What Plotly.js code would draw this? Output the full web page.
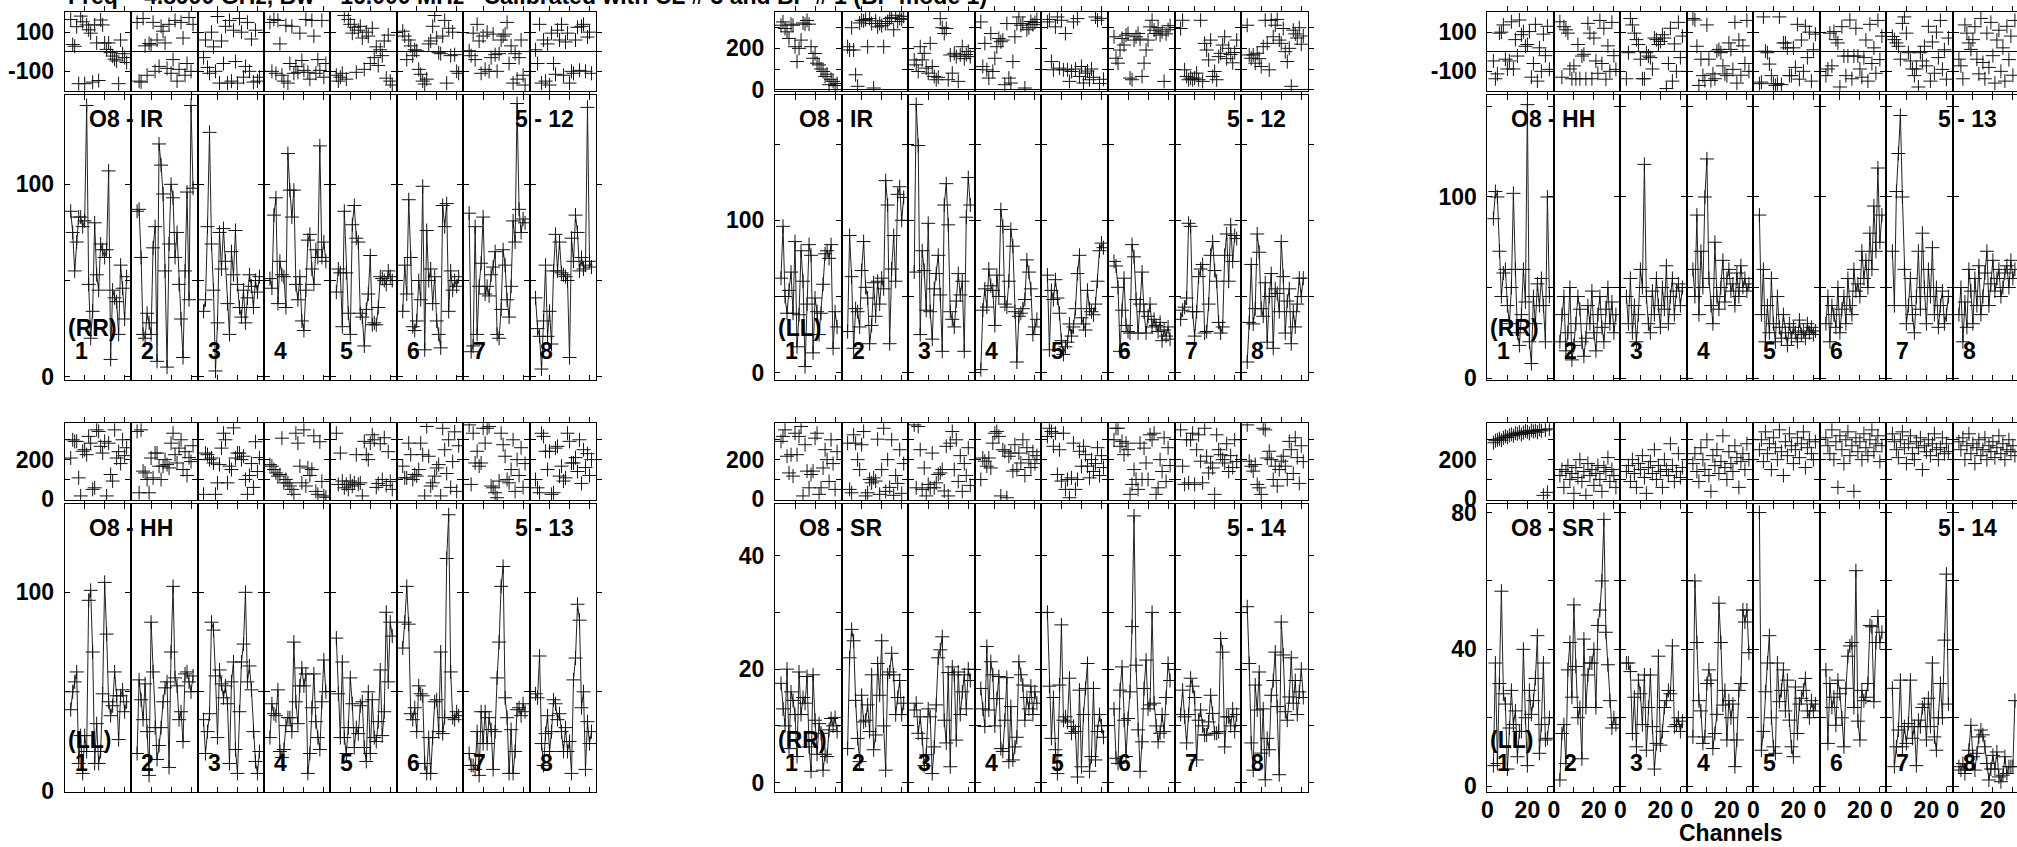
<!DOCTYPE html>
<html><head><meta charset="utf-8">
<script src="https://cdn.plot.ly/plotly-3.0.1.min.js"></script>
<style>html,body{margin:0;padding:0;background:#fff;overflow:hidden}</style>
</head><body><div id="chart" style="width:2017px;height:847px"></div>
<script>
// ---------------- DATA ----------------
const channels = [3,4,5,6,7,8,9,10,11,12,13,14,15,16,17,18,19,20,21,22,23,24,25,26,27,28,29,30,31];

const panelSource   = ['O8 - IR','O8 - IR','O8 - HH','O8 - HH','O8 - SR','O8 - SR'];
const panelBaseline = ['5 - 12','5 - 12','5 - 13','5 - 13','5 - 14','5 - 14'];
const panelStokes   = ['(RR)','(LL)','(RR)','(LL)','(RR)','(LL)'];
const ifLabels = ['1','2','3','4','5','6','7','8'];
const titleText = 'Freq = 4.8990 GHz, Bw = 16.000 MHz\u00a0\u00a0\u00a0Calibrated with CL # 3 and BP # 1 (BP mode 1)';
const xAxisTitle = 'Channels';
const xTickVals = [0,10,20,30];
const xTickText = ['0','','20',''];

const phaseTickValsA = [-200,-100,0,100,200];
const phaseTickTextA = ['','-100','','100',''];
const phaseTickValsB = [0,100,200,300];
const phaseTickTextB = ['0','','200',''];
const ampTickVals = [[0,50,100],[0,50,100,150],[0,50,100,150],[0,50,100],[0,10,20,30,40],[0,20,40,60,80]];
const ampTickText = [['0','','100'],['0','','100',''],['0','','100',''],['0','','100'],['0','','20','','40'],['0','','40','','80']];

// Panel A: O8 - IR (RR)
const ampA = [
[86,75,55,70,83,83,78,81,141,48,20,34,80,53,45,69,66,62,66,107,9,45,41,39,22,58,46,30,52],
[86,87,62,22,20,33,28,22,67,78,8,121,110,95,55,5,69,100,93,62,75,48,30,10,55,96,40,141,98],
[34,40,78,127,69,45,3,28,75,56,77,60,38,22,65,53,76,48,36,31,45,28,41,53,47,36,50,44,52],
[51,46,84,93,38,60,53,52,36,116,97,83,97,48,40,52,29,24,45,71,74,56,48,66,62,120,62,70,60],
[44,56,54,26,86,54,33,22,79,89,72,70,33,31,16,35,43,63,27,28,27,36,52,51,50,48,55,52,50],
[34,58,43,92,62,26,24,29,50,40,99,14,76,50,56,38,52,29,22,15,89,78,90,34,55,45,50,47,52],
[85,13,16,78,22,47,59,83,43,47,42,53,57,65,22,20,35,66,58,40,31,47,81,70,142,87,75,82,80],
[41,25,21,4,29,58,21,34,17,55,74,55,70,54,53,52,50,10,72,60,84,75,55,62,56,58,140,60,57]];
const phsA = [
[165,37,28,128,-163,182,153,-163,137,112,95,-155,137,45,-147,162,137,45,12,45,-5,-22,-38,-47,-163,60,-10,-30,-55],
[150,-150,-155,170,30,-120,42,35,150,-100,60,-75,130,105,45,-85,140,-110,-40,160,-150,-90,150,70,-120,-60,175,-100,140],
[-30,60,-80,-110,100,25,-100,180,-160,55,-60,130,-160,160,-150,110,-50,-160,170,100,-130,-75,150,-100,65,-155,110,-150,-130],
[150,-100,165,-110,160,40,-120,-150,135,-160,-60,130,-110,-75,-105,95,-45,-95,165,-105,-140,160,80,-110,-40,-95,160,-130,-60],
[-120,-150,-130,-110,185,-140,165,140,95,125,-105,110,130,70,-90,100,80,-60,120,-30,25,-70,10,-20,55,-135,85,-150,-170],
[105,80,-40,60,30,-20,10,5,-90,-115,-150,-165,-140,40,55,130,185,70,-5,-10,80,160,-160,120,-20,100,-15,-100,-110],
[5,-20,95,-40,140,55,-110,80,-90,100,-100,-30,90,-15,-100,-10,60,80,90,150,-60,30,-160,-10,-140,-30,60,-120,-170],
[10,-60,140,-160,60,-150,40,-170,95,-60,-115,110,60,140,-120,50,95,-160,-100,-110,60,125,-95,130,140,-100,75,100,-110]];

// Panel B: O8 - IR (LL)
const ampB = [
[62,96,50,39,54,66,39,86,17,38,80,60,4,45,84,77,13,49,40,25,39,58,78,80,75,84,16,40,30],
[27,90,63,16,42,40,30,67,86,56,49,19,31,59,37,60,45,62,55,126,110,19,68,90,60,117,122,100,115],
[66,176,149,25,80,67,41,98,40,22,55,65,77,51,14,110,124,97,40,35,30,47,65,51,60,14,102,128,110],
[2,41,55,43,68,57,54,31,64,50,107,96,45,43,60,94,83,40,7,37,39,42,48,74,66,55,25,30,35],
[64,15,54,48,61,49,39,21,12,17,20,32,24,30,42,65,77,36,32,28,54,42,40,38,45,60,80,85,82],
[73,70,56,14,41,62,31,27,26,84,76,48,26,45,66,40,26,37,45,30,35,31,27,33,21,28,24,30,22],
[35,41,43,49,98,96,40,24,40,63,68,71,26,27,45,77,86,67,60,33,26,30,77,91,60,97,73,90,88],
[7,33,71,32,42,91,79,42,37,59,20,50,65,16,55,52,40,86,63,26,47,55,19,40,30,45,62,50,62]];
const phsB = [
[312,328,296,280,248,317,312,208,136,200,240,323,317,335,317,208,152,175,128,120,100,88,64,75,24,50,40,20,30],
[208,192,300,192,72,16,323,336,333,340,208,344,320,8,333,304,320,310,208,320,330,344,350,290,360,330,345,340,355],
[144,120,88,208,144,176,104,80,224,112,64,48,60,344,300,272,296,48,168,80,176,160,40,168,208,150,170,185,160],
[328,112,224,96,56,272,88,152,208,248,232,240,24,320,56,32,136,256,320,352,312,320,8,290,300,330,315,325,340],
[328,340,136,96,304,352,104,336,96,272,96,40,88,328,100,344,64,112,32,80,90,48,100,60,352,336,30,345,50],
[256,152,128,192,248,216,264,272,56,48,240,256,272,245,64,128,192,240,304,336,288,272,300,264,280,40,270,290,310],
[296,336,96,64,48,56,48,56,80,48,336,40,224,192,144,240,64,88,48,160,176,216,256,150,200,170,130,180,240],
[312,168,152,168,128,176,150,112,208,336,224,96,336,256,312,340,240,224,296,184,136,200,16,288,270,250,300,220,260]];

// Panel C: O8 - HH (RR)
const ampC = [
[88,103,100,70,45,58,60,40,30,50,102,60,25,18,35,60,42,151,20,8,45,30,52,40,55,40,20,100,45],
[20,35,45,15,25,50,10,18,30,45,38,20,12,22,40,30,48,25,15,35,45,28,20,38,50,30,42,25,35],
[45,30,55,25,40,20,35,60,50,118,45,30,25,48,35,55,40,28,50,38,62,30,45,55,35,48,52,40,50],
[60,45,90,35,70,50,100,121,55,40,30,75,45,38,50,65,42,55,60,48,52,40,58,45,62,50,55,48,52],
[90,35,60,20,40,25,55,30,20,45,28,22,35,25,18,30,22,28,25,20,32,24,26,22,30,25,28,24,26],
[30,45,20,40,35,28,50,25,38,45,30,55,40,35,60,48,52,45,70,55,65,50,80,60,95,70,116,75,90],
[70,40,103,124,145,100,60,30,40,55,35,25,45,70,38,80,50,30,60,45,72,35,50,28,40,48,30,35,45],
[35,50,20,42,28,60,48,30,55,40,62,35,45,58,70,40,52,65,48,55,60,45,50,58,62,50,65,55,60]];
const phsC = [
[-47,-138,-113,95,100,137,-38,-88,-47,153,-88,62,-22,162,87,103,28,37,103,-130,-60,140,-150,20,-100,90,-20,130,-90],
[153,-130,128,112,95,-88,-138,-72,-138,37,-138,-22,-13,-138,145,95,-138,70,-47,-110,160,-60,120,-140,30,-100,150,-20,-90],
[-138,-5,170,137,95,62,37,-38,-138,-138,-5,-22,-30,-88,70,62,37,53,87,70,-188,-60,120,-150,40,-100,150,-30,80],
[170,162,28,-172,-38,-122,-147,137,-38,-147,-113,-138,3,12,-5,-72,-113,-122,45,12,-90,150,-160,60,-120,30,-60,160,-100],
[-163,-155,178,3,-5,-63,-122,-163,-172,-163,178,-168,45,45,20,-122,-122,20,-80,140,-140,60,-100,130,-30,100,-150,10,90],
[-122,-88,95,-72,103,62,45,-180,128,-22,-122,-22,162,-138,-22,120,-22,-88,-130,-30,60,-150,140,-60,20,-110,160,-40,80],
[78,62,45,28,-38,145,178,95,-5,-47,-88,-122,-88,-180,-5,-47,28,-72,130,-150,50,-110,100,-30,160,-90,10,-140,70],
[-38,-72,-138,137,95,45,12,62,128,-38,-113,170,-55,-138,95,-80,150,-20,-160,60,110,-100,20,-150,130,-40,80,-120,160]];

// Panel D: O8 - HH (LL)
const ampD = [
[41,50,55,60,14,28,9,28,20,96,101,70,14,34,14,20,49,105,79,45,38,43,60,48,26,48,51,40,45],
[19,56,46,36,54,30,8,85,60,32,16,23,32,45,52,55,12,70,103,57,53,36,40,25,59,60,55,50,58],
[36,19,30,39,85,81,58,27,61,54,47,53,44,14,55,65,21,9,40,65,74,100,55,63,51,30,15,9,20],
[27,44,39,38,51,20,17,21,33,37,37,30,75,45,34,53,62,53,59,9,19,42,59,35,27,21,45,66,50],
[77,49,27,65,27,19,32,57,44,22,32,29,43,45,22,15,50,19,46,27,25,35,61,28,40,90,55,85,78],
[72,85,103,84,39,36,42,30,53,49,48,14,9,27,9,27,45,46,30,70,29,37,117,139,60,37,36,40,38],
[19,13,13,11,30,8,40,24,40,24,37,31,11,30,57,75,103,113,47,37,9,31,9,20,41,42,38,44,40],
[49,47,68,24,13,29,38,20,30,46,44,36,39,30,20,32,20,25,9,56,67,94,86,42,50,11,35,24,30]];
const phsD = [
[208,300,292,292,108,17,242,250,225,317,283,50,58,350,342,267,233,292,17,283,125,92,350,208,240,180,300,220,260],
[342,33,350,142,133,100,33,208,108,233,233,167,100,167,200,175,158,283,333,225,183,258,300,150,240,120,210,190,270],
[25,233,225,200,208,183,25,83,175,258,333,300,83,167,150,360,208,233,233,200,217,100,25,120,180,60,290,140,210],
[175,167,150,133,117,125,308,83,100,83,67,50,25,333,283,167,83,350,67,158,120,150,320,40,25,290,90,17,10],
[333,75,233,92,58,75,50,92,67,83,225,75,83,17,292,225,200,283,325,300,60,80,280,100,310,70,240,90,50],
[167,108,108,283,225,100,125,117,150,283,225,17,367,217,67,83,117,158,175,17,358,250,130,300,60,190,340,40,270],
[375,75,333,183,242,167,183,358,283,358,367,67,58,33,8,92,333,275,217,100,83,150,300,40,200,120,260,60,180],
[100,58,33,333,317,242,150,242,25,33,258,267,117,167,92,108,333,292,183,183,210,140,300,80,250,160,230,120,200]];

// Panel E: O8 - SR (RR)
const ampE = [
[17.5,13,10,20,6,16,14.5,12,4.6,19.5,12,15,14,18.7,6.3,2,19,11,5,10.4,8.7,2.2,5,4.6,9.3,11.3,10,11.5,9],
[6,22,27,25,14.5,7.8,3.7,15.4,10.7,11,13.7,9,19,5.8,8.4,21,15.4,25,10,2.2,19,19.5,22.8,19,12,15,18,12,14],
[12.8,14,8.7,11.6,7.8,3,4.9,13,11.6,1.6,6.3,13.7,22,23.4,25.7,11,7,19.4,2.8,20.4,19,7.5,19.5,12,16,19,13,20,18],
[16.6,13,9.9,24,12.8,21.3,19,10,14.8,18.7,6,5.5,11,18.5,3.7,13.4,4,6.3,8,21.3,19,17.2,11,15,13,17,12,16,14],
[30,17,7.8,15,5.8,1.6,17.2,27.8,11,11.6,10.7,18.4,8.7,9.9,9,1,16.3,2.8,12,16.6,21,2,4.6,16.6,4,9,12,10,8],
[13,4.3,3.4,16.3,20.4,11,4.6,11.3,16,27.5,47,20.7,9.3,2,7.2,16.6,21.6,13,13.7,30,14,10,7.2,8.7,12,9,15,21,18],
[12,16.3,11.6,7,12,18.4,17,15,4,11,12.8,10,8.4,8.4,10.7,15.4,12.2,8.7,8.7,9,25.4,23,6.3,11.6,11.6,10,13,9,12],
[31,21,7,2.2,17.2,12.8,19.5,5.2,13,0.5,7.8,5.8,15.4,18,23,13.4,1.4,28.3,22.5,12.5,11,15.1,22,14,18,12,16,20,15]];
const phsE = [
[292,317,350,217,133,225,117,333,225,317,367,17,275,142,58,125,142,308,333,25,58,158,250,200,90,300,180,50,240],
[283,50,33,325,283,200,150,275,342,17,33,100,83,108,92,303,25,150,358,40,200,60,300,20,120,80,250,30,180],
[375,58,367,250,50,158,17,75,58,233,58,83,125,133,150,42,267,17,283,342,150,300,90,220,40,180,120,260,70],
[100,208,192,167,208,158,283,333,342,317,17,250,242,8,217,233,142,275,150,233,183,300,120,260,200,160,240,180,220],
[317,358,342,267,333,125,250,92,333,50,100,8,108,283,50,100,242,167,267,225,167,108,200,140,180,260,120,220,160],
[300,358,358,267,292,225,283,250,25,75,150,100,50,283,100,258,183,100,325,300,333,25,58,200,140,310,90,260,170],
[350,167,75,300,83,300,333,75,250,325,192,83,358,217,133,183,158,25,325,250,225,200,183,280,140,220,160,300,190],
[375,192,167,142,175,75,58,25,358,350,208,242,200,100,167,67,150,192,217,167,100,292,250,130,310,210,80,270,190]];

// Panel F: O8 - SR (LL)
const ampF = [
[6,36,6.6,30,57,27,24,5,17,28,18,22,8.6,16,16,40,20,6,28,21,25,31.5,44,9.6,18,36,13.5,14,20],
[1.8,15.4,18,6.6,34,42,26,53,35,20,23,8,43,23,32.5,36,36,40,23,47,51.5,60,78,45,35.5,25,17,20,18],
[36,36,33.5,15.4,26,11.5,31,27,18,32.5,10.5,23,32.5,17.4,5,12.5,38,12,16,23,25,28,27,41,17.4,18,20,16,19],
[14.4,60,42,25,22,12.5,14.4,30,34,31,11,15.4,21,53.5,42,23.7,28,13.5,25,20,24,5.7,13.5,28,30,51.5,48,51.5,39],
[80,10.5,16,27.6,36,44,20,11.5,9.6,36,24.7,28,34,22,31,19.3,11.5,8.6,29,15.4,24,25.7,28,31.5,22,20,25,22,24],
[34,12.5,30,23,26,17.8,31,27,20,11.5,28.6,38,41,42,23,63,19,13.5,28,25,26,30,47,46.6,24.7,42,49.6,42,45],
[28.6,5.7,11.5,16.4,31,11.5,17.4,12.5,18.3,31,14,17.4,6,19.3,17.4,23,24,13.5,25.7,17.4,36,14.4,10.5,20,30,20,42.7,62,24],
[5.7,4.7,6.6,3.7,6.6,10.5,17.8,8.6,4.7,9.6,14.4,16.4,15,11.5,6.6,1.8,5,9,5,10,2.7,1.3,3.2,8.6,3.7,5.7,5.7,5.7,25]];
const phsF = [
[285,295,300,305,298,310,318,312,322,328,320,333,330,338,326,336,344,340,332,348,342,346,338,352,345,20,350,35,355],
[120,150,60,140,170,100,130,30,160,110,200,90,140,20,180,120,150,70,130,170,100,40,160,140,210,90,150,120,60],
[140,170,90,200,130,60,180,150,220,110,30,160,190,130,250,100,170,140,60,200,150,120,280,170,90,140,230,110,160],
[180,230,140,90,260,200,150,300,120,40,220,170,250,130,190,320,160,100,240,180,140,270,210,60,190,230,150,280,200],
[250,300,190,340,230,280,150,310,260,200,350,240,120,290,220,330,270,180,250,310,210,280,340,160,260,300,230,200,290],
[310,270,230,350,200,290,60,320,250,180,300,340,220,270,40,310,240,290,200,330,260,220,300,350,240,280,320,190,270],
[330,290,250,210,300,340,260,180,280,320,230,200,290,260,310,150,270,240,300,220,280,330,250,200,260,310,230,280,240],
[290,250,310,200,270,330,230,280,180,260,300,220,250,310,200,270,240,290,210,260,320,230,280,200,250,300,240,270,220]];

const ampAll = [ampA, ampB, ampC, ampD, ampE, ampF];
const phsAll = [phsA, phsB, phsC, phsD, phsE, phsF];

// ---------------- GEOMETRY / STYLE ----------------
const W = 2017, H = 847;
const colLeft = [64.7, 775, 1487.4];
const subW = [66.41, 66.6, 66.5];
const rows = [{pt:12, pb:91.3, at:94.5, ab:380}, {pt:423.3, pb:500.3, at:504, ab:792.3}];
const xFull = 33.25;
const phaseRange = [[-202,203],[-8,376],[-202,203],[-5,383],[-5,383],[-5,383]];
const ampRange = [[-1.7,146.7],[-4.8,182.5],[-1.1,156.6],[-0.5,144.4],[-1.7,49.1],[-1.8,82.5]];
const FONT = 'Liberation Sans, Arial, Helvetica, sans-serif';
const tf = {family: FONT, size: 23, color: '#000', weight: 'bold'};
const crossMarker = {symbol:'cross-thin', size:10, color:'#111', line:{width:1, color:'#111'}};

const axBase = {showline:true, linecolor:'#000', linewidth:1, mirror:'allticks',
  ticks:'inside', ticklen:5, tickwidth:1, tickcolor:'#000', showgrid:false, zeroline:false,
  fixedrange:true, tickfont: tf, tickmode:'array'};

const layout = {width:W, height:H, margin:{l:0,r:0,t:0,b:0}, showlegend:false,
  paper_bgcolor:'#fff', plot_bgcolor:'rgba(0,0,0,0)', font: tf, annotations: []};
const traces = [];
const px = v => v / W, py = v => 1 - v / H;

for (let p = 0; p < 6; p++) {
  const c = p % 3, r = Math.floor(p / 3), g = rows[r];
  const yPh = 2*p + 1, yAm = 2*p + 2;
  for (let k = 0; k < 8; k++) {
    const n = p*8 + k + 1;
    const x0 = colLeft[c] + k*subW[c];
    let x1 = x0 + subW[c], rng = [0, xFull];
    if (x1 > W) { rng = [0, xFull * (W - x0) / subW[c]]; x1 = W; }
    layout['xaxis' + n] = Object.assign({}, axBase, {
      domain:[px(x0), px(x1)], range: rng, anchor: 'y' + yAm,
      tickvals: xTickVals, ticktext: xTickText, showticklabels: p === 5,
      ticklabelstandoff: -3});
    const amp = ampAll[p][k], ph = phsAll[p][k];
    traces.push({type:'scatter', mode:'markers', x: channels.slice(0, ph.length), y: ph,
      xaxis:'x'+n, yaxis:'y'+yPh, hoverinfo:'skip', cliponaxis:true, marker: crossMarker});
    traces.push({type:'scatter', mode:'lines+markers', x: channels.slice(0, amp.length), y: amp,
      xaxis:'x'+n, yaxis:'y'+yAm, hoverinfo:'skip', cliponaxis:true,
      line:{color:'#222', width:1}, marker: crossMarker});
    layout.annotations.push({text: ifLabels[k], xref:'paper', yref:'paper',
      x: px(x0 + 8), y: py(g.ab - 29), xanchor:'left', yanchor:'middle', showarrow:false, font: tf});
  }
  const phA = (c !== 1 && r === 0);
  layout['yaxis' + yPh] = Object.assign({}, axBase, {
    domain:[py(g.pb), py(g.pt)], range: phaseRange[p], anchor:'x' + (p*8+1),
    tickvals: phA ? phaseTickValsA : phaseTickValsB, ticktext: phA ? phaseTickTextA : phaseTickTextB,
    zeroline:true, zerolinecolor:'#000', zerolinewidth:1, ticklabelstandoff: 5});
  layout['yaxis' + yAm] = Object.assign({}, axBase, {
    domain:[py(g.ab), py(g.at)], range: ampRange[p], anchor:'x' + (p*8+1),
    tickvals: ampTickVals[p], ticktext: ampTickText[p], ticklabelstandoff: 5});
  const colRight = colLeft[c] + 8*subW[c];
  layout.annotations.push({text: panelSource[p], xref:'paper', yref:'paper',
    x: px(colLeft[c] + 22), y: py(g.at + 24), xanchor:'left', yanchor:'middle', showarrow:false, font: tf});
  layout.annotations.push({text: panelBaseline[p], xref:'paper', yref:'paper',
    x: px(colRight - 20), y: py(g.at + 24), xanchor:'right', yanchor:'middle', showarrow:false, font: tf});
  layout.annotations.push({text: panelStokes[p], xref:'paper', yref:'paper',
    x: px(colLeft[c] + 1), y: py(g.ab - 52), xanchor:'left', yanchor:'middle', showarrow:false, font: tf});
}
layout.annotations.push({text: titleText, xref:'paper', yref:'paper', x: px(66), y: py(11),
  xanchor:'left', yanchor:'bottom', showarrow:false, font: tf});
layout.annotations.push({text: xAxisTitle, xref:'paper', yref:'paper', x: px(1731), y: py(847),
  xanchor:'center', yanchor:'bottom', borderpad:0, showarrow:false, font: tf});

Plotly.newPlot('chart', traces, layout, {displayModeBar:false, staticPlot:true});
</script></body></html>
